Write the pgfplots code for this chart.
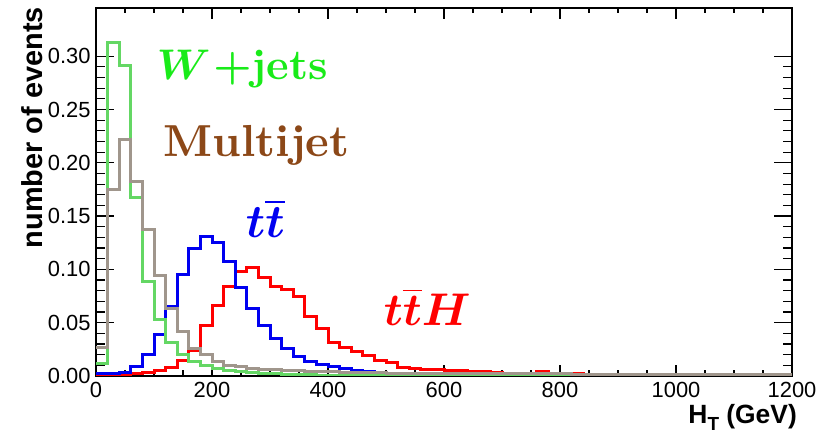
\documentclass[border=0pt]{standalone}
\usepackage{fontspec}
\usepackage{pgfplots}
\usepackage{pgfplotstable}
\pgfplotsset{compat=1.18}
\newfontfamily\tickfont{Liberation Sans}
\newfontfamily\labfont{Liberation Sans}
\definecolor{wline}{RGB}{100,215,100}
\definecolor{wtext}{RGB}{25,235,25}
\definecolor{mline}{RGB}{160,150,140}
\definecolor{mtext}{RGB}{140,72,24}
\definecolor{bline}{RGB}{0,0,240}
\definecolor{rline}{RGB}{255,0,0}

\pgfplotstableread{
x y
0 0.0005
20 0.001
40 0.0015
60 0.002
80 0.0035
100 0.0055
120 0.008
140 0.015
160 0.024
180 0.047
200 0.066
220 0.084
240 0.098
260 0.102
280 0.092
300 0.084
320 0.081
340 0.075
360 0.056
380 0.045
400 0.031
420 0.027
440 0.023
460 0.019
480 0.015
500 0.0125
520 0.0082
540 0.0072
560 0.0063
580 0.0057
600 0.005
620 0.0047
640 0.0045
660 0.004
680 0.0035
700 0.0026
720 0.0025
740 0.0024
760 0.0042
780 0.0022
800 0.0021
820 0.002
840 0.0018
860 0.0018
880 0.0016
900 0.0015
920 0.0014
940 0.0013
960 0.0012
980 0.0012
1000 0.001
1020 0.001
1040 0.0009
1060 0.0008
1080 0.0008
1100 0.0007
1120 0.0006
1140 0.0006
1160 0.0005
1180 0.0005
1200 0.0005
}\tthdata

\pgfplotstableread{
x y
0 0.002
20 0.002
40 0.003
60 0.009
80 0.020
100 0.039
120 0.065
140 0.095
160 0.120
180 0.131
200 0.125
220 0.107
240 0.083
260 0.063
280 0.047
300 0.035
320 0.026
340 0.018
360 0.014
380 0.011
400 0.0087
420 0.0067
440 0.0054
460 0.004
480 0.003
500 0.0022
520 0.0016
540 0.0012
560 0.0009
580 0.0007
600 0.0005
620 0.0004
640 0.0004
660 0.0003
680 0.0003
700 0.0002
720 0.0002
740 0.0002
760 0.0001
780 0.0001
800 0.0001
1200 0.0001
}\ttdata

\pgfplotstableread{
x y
0 0.012
20 0.313
40 0.291
60 0.167
80 0.089
100 0.053
120 0.031
140 0.020
160 0.0134
180 0.0103
200 0.0072
220 0.005
240 0.004
260 0.003
280 0.0025
300 0.002
320 0.0016
340 0.0013
360 0.001
380 0.0009
400 0.0008
420 0.0006
440 0.0005
460 0.0004
480 0.0004
500 0.0003
520 0.0003
540 0.0002
560 0.0002
580 0.0002
600 0.0001
1200 0.0001
}\wdata

\pgfplotstableread{
x y
0 0.027
20 0.175
40 0.222
60 0.182
80 0.137
100 0.094
120 0.063
140 0.042
160 0.026
180 0.020
200 0.0134
220 0.0097
240 0.0087
260 0.0072
280 0.0065
300 0.006
320 0.0055
340 0.005
360 0.0046
380 0.0042
400 0.004
420 0.0037
440 0.0034
460 0.0032
480 0.003
500 0.0028
520 0.0027
540 0.0026
560 0.0025
580 0.0024
600 0.0023
620 0.0022
640 0.0022
660 0.0021
680 0.0021
700 0.002
720 0.002
740 0.002
760 0.0019
780 0.0019
800 0.0019
820 0.0018
840 0.0018
860 0.0018
880 0.0017
900 0.0017
920 0.0017
940 0.0017
960 0.0016
980 0.0016
1000 0.0016
1020 0.0016
1040 0.0015
1060 0.0015
1080 0.0015
1100 0.0015
1120 0.0015
1140 0.0015
1160 0.0015
1180 0.0015
1200 0.0015
}\mjdata

\pgfplotsset{
  mybase/.style={
    scale only axis, width=696bp, height=368bp,
    at={(0,0)}, anchor=south west,
    xmin=0, xmax=1200, ymin=0, ymax=0.3452,
    axis line style={line width=1.5bp, black},
    tick align=inside,
    tick style={line width=1.2bp, black},
    ticklabel style={font=\tickfont\fontsize{22}{26}\selectfont},
  }
}

\begin{document}
\begin{tikzpicture}
\path[use as bounding box] (-96bp,-59bp) rectangle (735bp,376bp);
\begin{axis}[mybase,
  xtick={0,200,400,600,800,1000,1200},
  xticklabels={0,200,400,600,800,1000,1200},
  minor x tick num=3, xtick pos=both,
  major tick length=11bp, minor tick length=5.5bp,
  ytick=\empty,
  xticklabel style={yshift=-3bp},
]
\end{axis}
\begin{axis}[mybase,
  xtick=\empty,
  ytick={0,0.05,0.1,0.15,0.2,0.25,0.3},
  yticklabels={0.00,0.05,0.10,0.15,0.20,0.25,0.30},
  minor y tick num=4, ytick pos=both,
  major tick length=18bp, minor tick length=9bp,
  yticklabel style={xshift=-2bp},
]
\addplot[const plot, draw=rline, line width=3bp] table[x=x,y=y] {\tthdata};
\addplot[const plot, draw=bline, line width=3bp] table[x=x,y=y] {\ttdata};
\addplot[const plot, draw=wline, line width=3bp] table[x=x,y=y] {\wdata};
\addplot[const plot, draw=mline, line width=3bp] table[x=x,y=y] {\mjdata};
\end{axis}
\node[anchor=base west, text=wtext, inner sep=0pt, scale=4.3, font=\normalsize\bfseries] at (60bp,296bp) {{\boldmath$W\mkern1mu+$}jets};
\node[anchor=base west, text=mtext, inner sep=0pt, scale=4.5, font=\normalsize\bfseries] at (67bp,219bp) {Multijet};
\node[anchor=base west, text=bline, inner sep=0pt, scale=4.7, font=\normalsize\bfseries] at (149bp,138bp) {{\boldmath$t\overline{t}$}};
\node[anchor=base west, text=rline, inner sep=0pt, scale=4.6, font=\normalsize\bfseries] at (287bp,50bp) {{\boldmath$t\overline{t}H$}};
\node[rotate=90, anchor=base east, inner sep=0pt, font=\labfont\bfseries\fontsize{29}{34}\selectfont] at (-53bp,369bp) {number of events};
\node[anchor=base east, inner sep=0pt, font=\labfont\bfseries\fontsize{26.5}{30}\selectfont] at (701bp,-47bp) {H\raisebox{-0.3em}{\fontsize{19}{23}\selectfont T} (GeV)};
\end{tikzpicture}
\end{document}
